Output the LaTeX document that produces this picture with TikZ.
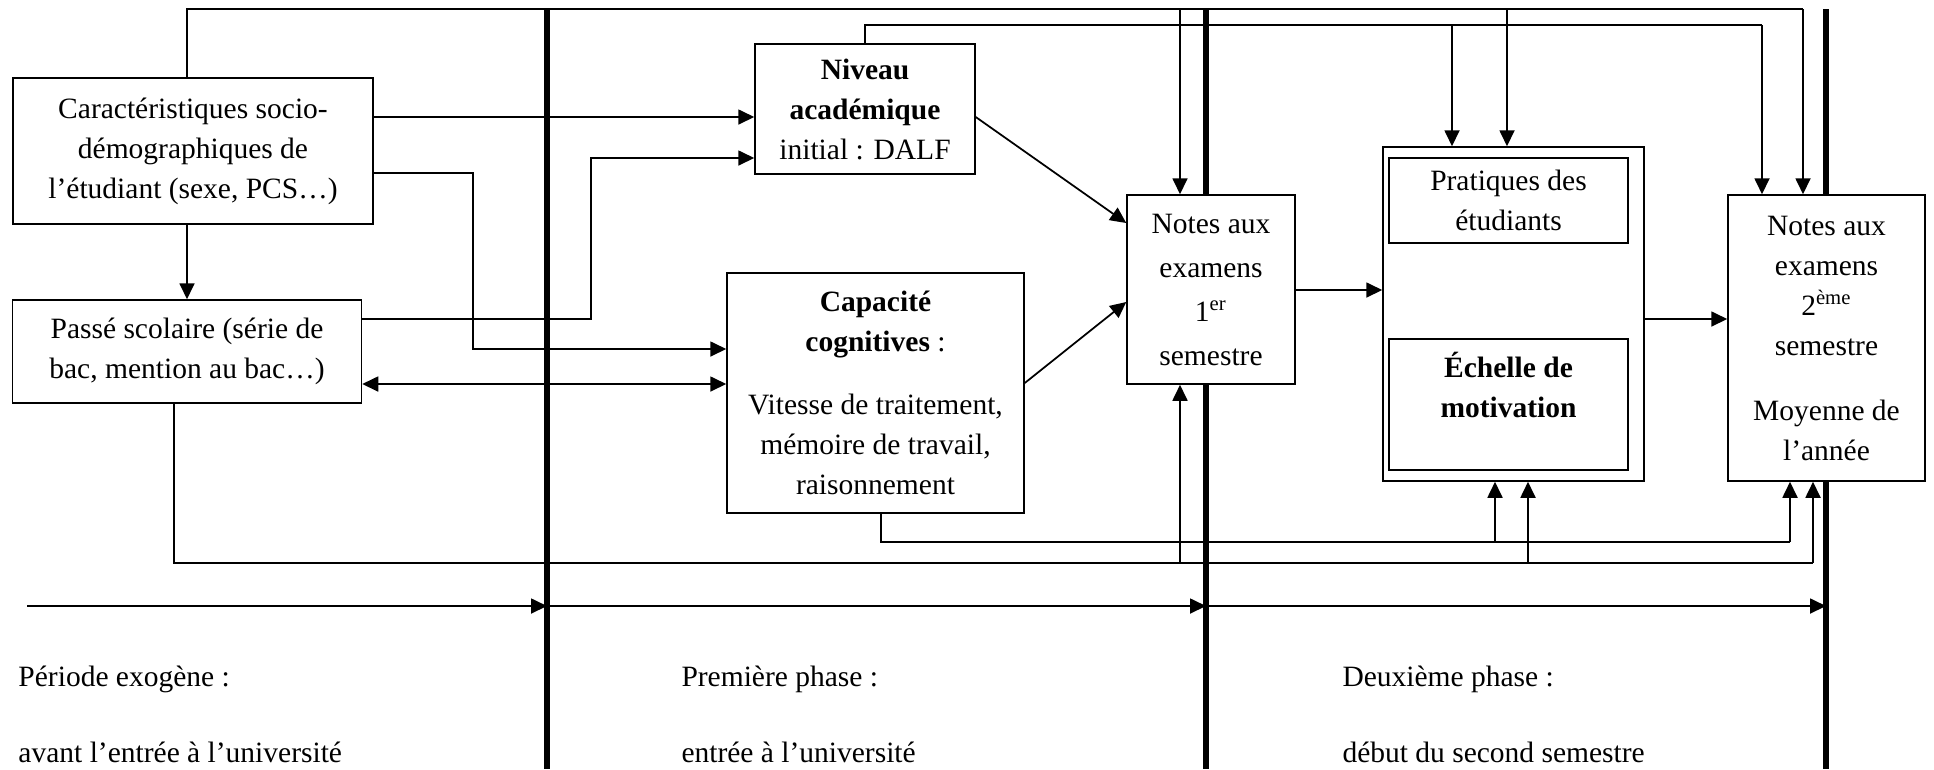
\documentclass[tikz,border=0pt]{standalone}
\usepackage{fontspec}
\setmainfont{Liberation Serif}
\usetikzlibrary{arrows.meta}
\tikzset{boite/.style={draw, line width=0.6pt, fill=white, align=center, inner sep=0pt, font=\fontsize{11.8}{16}\selectfont},
lien/.style={line width=0.7pt},
fleche/.style={lien, -{Triangle[length=6.4pt,width=6pt]}},
fleches/.style={lien, {Triangle[length=6.4pt,width=6pt]}-{Triangle[length=6.4pt,width=6pt]}},
phase/.style={line width=2.3pt},
%texte sous l'axe du temps
periode/.style={anchor=base west, inner sep=0pt, font=\fontsize{11.8}{16}\selectfont}}

\begin{document}
\begin{tikzpicture}[x=0.4pt,y=-0.4pt]
    \useasboundingbox (0,0) rectangle (1934,769);

    \foreach \x in {547,1206,1826}
    \draw[phase] (\x,9) -- (\x,769);

    \node[boite, minimum width=144pt, minimum height=58.4pt] (carac) at (193,151) {Caractéristiques socio-\\démographiques de\\l’étudiant (sexe, PCS…)};
    \node[boite, minimum width=139.6pt, minimum height=41.2pt] (passe) at (187,351.5) {Passé scolaire (série de\\bac, mention au bac…)};
    \node[boite, minimum width=88pt, minimum height=52pt] (niveau) at (865,109) {\textbf{Niveau}\\\textbf{académique}\\initial : DALF};
    \node[boite, minimum width=118.8pt, minimum height=96pt] (capa) at (875.5,393) {\textbf{Capacité}\\\textbf{cognitives} :\\[9pt]Vitesse de traitement,\\mémoire de travail,\\raisonnement};
    \node[boite, minimum width=67.2pt, minimum height=75.6pt, font=\fontsize{11.8}{17.6}\selectfont] (notes1) at (1211,289.5) {Notes aux\\examens\\1\textsuperscript{er}\\semestre};
    \node[boite, minimum width=104.4pt, minimum height=133.6pt] (cadre) at (1513.5,314) {};
    \node[boite, minimum width=95.6pt, minimum height=34pt] (prat) at (1508.5,200.5) {Pratiques des\\étudiants};
    \node[boite, minimum width=95.6pt, minimum height=52.4pt] (echelle) at (1508.5,404.5) {\textbf{Échelle de}\\\textbf{motivation}\\~};
    \node[boite, minimum width=78.8pt, minimum height=114.4pt] (notes2) at (1826.5,338) {Notes aux\\examens\\2\textsuperscript{ème}\\semestre\\[10pt]Moyenne de\\l’année};

    % liens du haut
    \draw[lien] (carac.north -| passe.north) |- (1803,9);
    \foreach \x/\n in {1180/notes1,1507/cadre,1803/notes2}
    \draw[fleche] (\x,9) -- (\n.north -| \x,0);
    \draw[lien] (niveau.north) |- (1762,25);
    \foreach \x/\n in {1452/cadre,1762/notes2}
    \draw[fleche] (\x,25) -- (\n.north -| \x,0);

    \draw[fleche] (carac.south -| passe.north) -- (passe.north);
    \draw[fleche] (carac.east |- 0,117) -- (niveau.west |- 0,117);
    \draw[fleche] (carac.east |- 0,173) -| (473,349) -- (capa.west |- 0,349);
    \draw[fleche] (passe.east |- 0,319) -| (591,158) -- (niveau.west |- 0,158);
    \draw[fleches] (passe.east |- 0,384) -- (capa.west |- 0,384);

    \draw[fleche] (niveau.east |- 0,117) -- (notes1.west |- 0,223);
    \draw[fleche] (capa.east |- 0,383) -- (notes1.west |- 0,302);
    \draw[fleche] (notes1.east |- 0,290) -- (cadre.west |- 0,290);
    \draw[fleche] (cadre.east |- 0,319) -- (notes2.west |- 0,319);

    % liens du bas
    \draw[lien] ([xshift=2.2pt]capa.south) |- (1790,542);
    \foreach \x/\n in {1495/cadre,1790/notes2}
    \draw[fleche] (\x,542) -- (\n.south -| \x,0);
    \draw[lien] ([xshift=-5.2pt]passe.south) |- (1813,563);
    \foreach \x/\n in {1180/notes1,1528/cadre,1813/notes2}
    \draw[fleche] (\x,563) -- (\n.south -| \x,0);

    % axe du temps
    \coordinate (0) at (27,606);
    \coordinate (1) at (547,606);
    \coordinate (2) at (1206,606);
    \coordinate (3) at (1826,606);
    \draw[fleche] (0) -- (1);
    \draw[fleche] (1) -- (2);
    \draw[fleche] (2) -- (3);

    \node[periode] (per1) at (18,686) {Période exogène :};
    \node[periode] (per1b) at (18,762) {avant l’entrée à l’université};
    \node[periode] (per2) at (681,686) {Première phase :};
    \node[periode] (per2b) at (681,762) {entrée à l’université};
    \node[periode] (per3) at (1342,686) {Deuxième phase :};
    \node[periode] (per3b) at (1342,762) {début du second semestre};

\end{tikzpicture}
\end{document}
